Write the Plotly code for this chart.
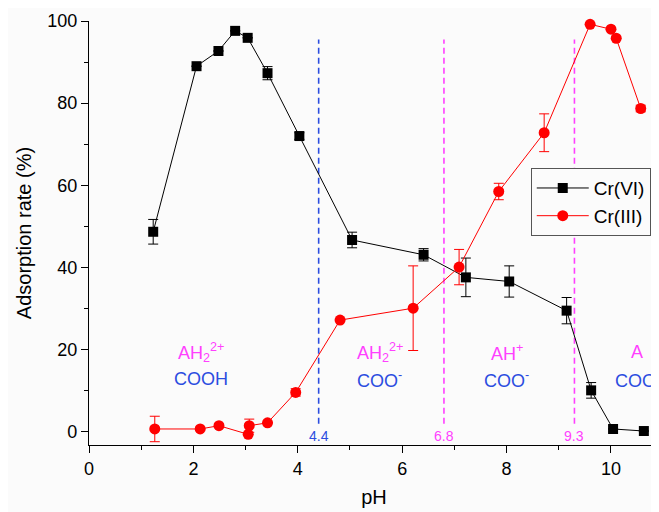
import plotly.graph_objects as go

# Cr(VI) data
ph_cr6 = [1.23, 2.06, 2.48, 2.80, 3.04, 3.42, 4.03, 5.04, 6.41, 7.22, 8.05, 9.15, 9.62, 10.04, 10.63]
ads_cr6 = [48.7, 89.0, 92.7, 97.6, 95.9, 87.3, 72.0, 46.7, 43.1, 37.6, 36.6, 29.5, 10.1, 0.7, 0.2]
err_cr6 = [3.0, 0, 0, 0, 0, 1.6, 0.8, 1.9, 1.5, 4.7, 3.8, 3.2, 1.9, 0, 0]

# Cr(III) data
ph_cr3 = [1.26, 2.13, 2.49, 3.05, 3.07, 3.42, 3.96, 4.81, 6.21, 7.09, 7.85, 8.72, 9.60, 10.0, 10.1, 10.57]
ads_cr3 = [0.7, 0.7, 1.5, -0.6, 1.5, 2.2, 9.6, 27.2, 30.1, 40.1, 58.5, 72.8, 99.2, 98.0, 95.8, 78.7]
err_cr3 = [3.1, 0, 0, 0, 1.6, 0, 0.9, 0, 10.3, 4.3, 2.0, 4.6, 0, 0, 0, 0.8]

# pKa lines
pka_values = [4.4, 6.8, 9.3]
pka_labels = ["4.4", "6.8", "9.3"]
pka_colors = ["#2b4de0", "#ff40ff", "#ff40ff"]

# region labels
region_x = [2.15, 5.57, 8.0, 10.5]
region_top = ["AH<sub>2</sub><sup>2+</sup>", "AH<sub>2</sub><sup>2+</sup>", "AH<sup>+</sup>", "A"]
region_bottom = ["COOH", "COO<sup>-</sup>", "COO<sup>-</sup>", "COO<sup>-</sup>"]

BLUE = "#2b4de0"
MAG = "#ff40ff"
FONT = "Liberation Sans, Arial, sans-serif"

fig = go.Figure()

fig.add_trace(go.Scatter(
    x=ph_cr6, y=ads_cr6, name="Cr(VI)", mode="lines+markers",
    line=dict(color="black", width=1),
    marker=dict(symbol="square", size=10, color="black"),
    error_y=dict(type="data", array=err_cr6, color="black", thickness=1, width=5),
    cliponaxis=False,
))
fig.add_trace(go.Scatter(
    x=ph_cr3, y=ads_cr3, name="Cr(III)", mode="lines+markers",
    line=dict(color="red", width=1),
    marker=dict(symbol="circle", size=11, color="red"),
    error_y=dict(type="data", array=err_cr3, color="red", thickness=1, width=5),
    cliponaxis=False,
))

for v, lab, col in zip(pka_values, pka_labels, pka_colors):
    fig.add_shape(type="line", xref="x", yref="y", x0=v, x1=v, y0=2.0, y1=95.5,
                  line=dict(color=col, width=1.6, dash="6px,4px"), layer="below")
    fig.add_annotation(x=v, y=-1.1, xref="x", yref="y", text=lab, showarrow=False,
                       font=dict(family=FONT, size=14, color=col))

for x, t, b in zip(region_x, region_top, region_bottom):
    fig.add_annotation(x=x, y=19.4, xref="x", yref="y", text=t, showarrow=False,
                       font=dict(family=FONT, size=18, color=MAG))
    fig.add_annotation(x=x, y=12.8, xref="x", yref="y", text=b, showarrow=False,
                       font=dict(family=FONT, size=18, color=BLUE))

fig.update_layout(
    width=651, height=504,
    margin=dict(l=81, r=0, t=13, b=67, autoexpand=False),
    paper_bgcolor="#fbfbfb", plot_bgcolor="#fbfbfb",
    font=dict(family=FONT, size=16, color="black"),
    showlegend=True,
    legend=dict(x=0.775, y=0.653, xanchor="left", yanchor="top",
                bordercolor="#555555", borderwidth=1, bgcolor="#fbfbfb",
                font=dict(family=FONT, size=19), tracegroupgap=0, itemwidth=52),
    xaxis=dict(range=[0, 10.92], showgrid=False, zeroline=False, showline=True,
               linecolor="black", linewidth=1.2, ticks="outside", ticklen=7,
               tickwidth=1.2, tickcolor="black", dtick=2, tick0=0,
               tickfont=dict(family=FONT, size=18),
               minor=dict(dtick=1, ticks="outside", ticklen=4, tickcolor="black", tickwidth=1.2),
               title=dict(text="pH", font=dict(family=FONT, size=20), standoff=12)),
    yaxis=dict(range=[-3.2, 100], showgrid=False, zeroline=False, showline=True,
               linecolor="black", linewidth=1.2, ticks="outside", ticklen=7,
               tickwidth=1.2, tickcolor="black", dtick=20, tick0=0,
               tickfont=dict(family=FONT, size=18),
               minor=dict(dtick=10, ticks="outside", ticklen=4, tickcolor="black", tickwidth=1.2),
               title=dict(text="Adsorption rate (%)", font=dict(family=FONT, size=20), standoff=10)),
)

fig.write_html("out.html")
